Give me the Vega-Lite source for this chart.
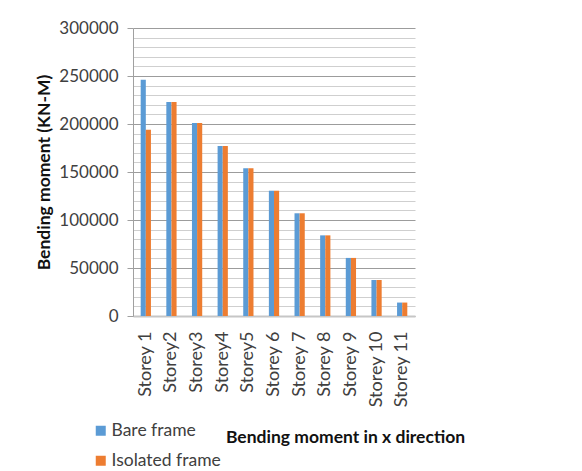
{
  "$schema": "https://vega.github.io/schema/vega-lite/v6.json",
  "autosize": {"type": "none"},
  "width": 282,
  "height": 288,
  "padding": {"left": 133, "top": 28, "right": 167, "bottom": 155},
  "background": "white",
  "config": {
    "font": "Lato",
    "view": {"stroke": null}
  },
  "data": {
    "values": [
      {"storey": "Storey 1", "frame": "Bare frame", "moment": 246000},
      {"storey": "Storey 1", "frame": "Isolated frame", "moment": 194000},
      {"storey": "Storey2", "frame": "Bare frame", "moment": 223000},
      {"storey": "Storey2", "frame": "Isolated frame", "moment": 223000},
      {"storey": "Storey3", "frame": "Bare frame", "moment": 201000},
      {"storey": "Storey3", "frame": "Isolated frame", "moment": 201000},
      {"storey": "Storey4", "frame": "Bare frame", "moment": 177000},
      {"storey": "Storey4", "frame": "Isolated frame", "moment": 177000},
      {"storey": "Storey5", "frame": "Bare frame", "moment": 154000},
      {"storey": "Storey5", "frame": "Isolated frame", "moment": 154000},
      {"storey": "Storey 6", "frame": "Bare frame", "moment": 130500},
      {"storey": "Storey 6", "frame": "Isolated frame", "moment": 130500},
      {"storey": "Storey 7", "frame": "Bare frame", "moment": 107000},
      {"storey": "Storey 7", "frame": "Isolated frame", "moment": 107000},
      {"storey": "Storey 8", "frame": "Bare frame", "moment": 84000},
      {"storey": "Storey 8", "frame": "Isolated frame", "moment": 84000},
      {"storey": "Storey 9", "frame": "Bare frame", "moment": 60500},
      {"storey": "Storey 9", "frame": "Isolated frame", "moment": 60500},
      {"storey": "Storey 10", "frame": "Bare frame", "moment": 37500},
      {"storey": "Storey 10", "frame": "Isolated frame", "moment": 37500},
      {"storey": "Storey 11", "frame": "Bare frame", "moment": 14000},
      {"storey": "Storey 11", "frame": "Isolated frame", "moment": 14000}
    ]
  },
  "mark": {"type": "bar"},
  "encoding": {
    "x": {
      "field": "storey",
      "type": "nominal",
      "sort": null,
      "scale": {"paddingInner": 0.6, "paddingOuter": 0.3},
      "axis": {
        "title": "Bending moment in x direction",
        "titleFont": "Lato",
        "titleFontSize": 17.5,
        "titleFontWeight": "bold",
        "titleColor": "#111111",
        "titleX": 212,
        "titleY": 121,
        "titleAnchor": "middle",
        "titleAlign": "center",
        "titleBaseline": "middle",
        "labelAngle": -90,
        "labelAlign": "right",
        "labelBaseline": "middle",
        "labelFontSize": 18,
        "labelColor": "#404040",
        "labelPadding": 15,
        "ticks": false,
        "domainColor": "#c6c6c6",
        "domainWidth": 2
      }
    },
    "xOffset": {"field": "frame", "type": "nominal"},
    "y": {
      "field": "moment",
      "type": "quantitative",
      "scale": {"domain": [0, 300000], "nice": false},
      "axis": {
        "title": "Bending moment (KN-M)",
        "titleFontSize": 17.5,
        "titleFontWeight": "bold",
        "titleColor": "#111111",
        "titlePadding": 5,
        "values": [0, 10000, 20000, 30000, 40000, 50000, 60000, 70000, 80000, 90000, 100000, 110000, 120000, 130000, 140000, 150000, 160000, 170000, 180000, 190000, 200000, 210000, 220000, 230000, 240000, 250000, 260000, 270000, 280000, 290000, 300000],
        "format": "d",
        "labelExpr": "datum.value % 50000 === 0 ? datum.label : ''",
        "labelFontSize": 17,
        "labelColor": "#404040",
        "labelPadding": 9,
        "tickSize": 6,
        "tickColor": "#a0a0a0",
        "tickOpacity": {"condition": {"test": "datum.value % 50000 === 0", "value": 1}, "value": 0},
        "grid": true,
        "gridColor": {"condition": {"test": "datum.value % 50000 === 0", "value": "#9c9c9c"}, "value": "#cfcfcf"},
        "gridWidth": 1.2,
        "domainColor": "#a0a0a0",
        "domainWidth": 1
      }
    },
    "color": {
      "field": "frame",
      "type": "nominal",
      "scale": {"domain": ["Bare frame", "Isolated frame"], "range": ["#5B9BD5", "#ED7D31"]},
      "legend": {
        "title": null,
        "orient": "none",
        "legendX": -41,
        "legendY": 394,
        "padding": 0,
        "symbolType": "square",
        "symbolSize": 100,
        "symbolStrokeWidth": 0,
        "labelFontSize": 17.5,
        "labelColor": "#404040",
        "labelOffset": 2,
        "rowPadding": 11
      }
    }
  }
}
